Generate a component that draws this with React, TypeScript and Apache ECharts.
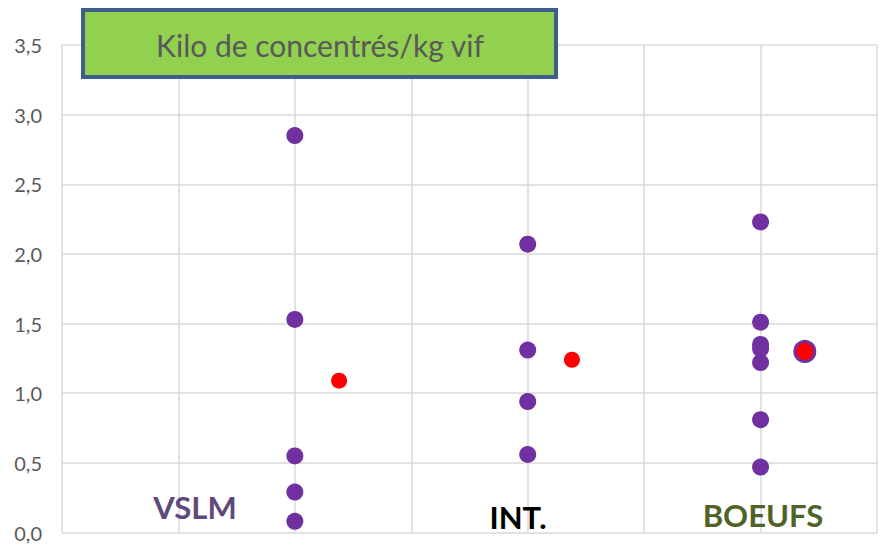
import React, { useEffect, useRef } from "react";
import * as echarts from "echarts";

const groupX = [2, 4, 6];
const groupNames = ["VSLM", "INT.", "BOEUFS"];
const vslmValues = [2.85, 1.53, 0.55, 0.29, 0.08];
const intValues = [2.07, 1.31, 0.94, 0.56];
const boeufsValues = [2.23, 1.51, 1.35, 1.32, 1.22, 0.81, 0.47];
const meanX = [2.38, 4.38, 6.38];
const meanValues = [1.09, 1.24, 1.3];
const yTicks = [0, 0.5, 1, 1.5, 2, 2.5, 3, 3.5];
const titleText = "Kilo de concentrés/kg vif";

export default function App() {
  const ref = useRef<HTMLDivElement>(null);
  useEffect(() => {
    if (!ref.current) return;
    const chart = echarts.init(ref.current, null, { renderer: "svg" });
    const groups = [vslmValues, intValues, boeufsValues];
    const purpleData: number[][] = [];
    groups.forEach((vals, i) => vals.forEach((v) => purpleData.push([groupX[i], v])));
    const meanData = meanValues.map((v, i) =>
      i === meanValues.length - 1
        ? {
            value: [meanX[i], v],
            symbolSize: 20,
            itemStyle: { color: "#FF0000", borderColor: "#7030A0", borderWidth: 3, opacity: 1 },
          }
        : { value: [meanX[i], v] }
    );
    chart.setOption({
      animation: false,
      grid: { left: 62, right: 13, top: 45, bottom: 22.5, containLabel: false },
      xAxis: {
        type: "value",
        min: 0,
        max: 7,
        interval: 1,
        axisLine: { show: false },
        axisTick: { show: false },
        axisLabel: { show: false },
        splitLine: { show: true, lineStyle: { color: "#d9d9d9", width: 1.5 } },
      },
      yAxis: {
        type: "value",
        min: yTicks[0],
        max: yTicks[yTicks.length - 1],
        interval: 0.5,
        axisLine: { show: false },
        axisTick: { show: false },
        axisLabel: {
          color: "#595959",
          fontFamily: "Lato",
          fontSize: 20,
          margin: 20,
          formatter: (v: number) => v.toFixed(1).replace(".", ","),
        },
        splitLine: { show: true, lineStyle: { color: "#d9d9d9", width: 1.5 } },
      },
      series: [
        {
          type: "scatter",
          data: purpleData,
          symbolSize: 17,
          itemStyle: { color: "#7030A0", opacity: 1 },
        },
        {
          type: "scatter",
          data: meanData,
          symbolSize: 16,
          itemStyle: { color: "#FF0000", opacity: 1 },
        },
      ],
      graphic: [
        {
          type: "rect",
          shape: { x: 83, y: 10, width: 473, height: 67 },
          style: { fill: "#92D050", stroke: "#3B5E8C", lineWidth: 4 },
          z: 10,
        },
        {
          type: "text",
          x: 320,
          y: 45,
          style: {
            text: titleText,
            fill: "#595959",
            font: "30px Lato",
            align: "center",
            verticalAlign: "middle",
          },
          z: 11,
        },
        {
          type: "text",
          x: 195,
          y: 507,
          style: { text: groupNames[0], fill: "#5F497A", font: "bold 31px Lato", align: "center", verticalAlign: "middle" },
          z: 11,
        },
        {
          type: "text",
          x: 518,
          y: 517,
          style: { text: groupNames[1], fill: "#000000", font: "bold 31px Lato", align: "center", verticalAlign: "middle" },
          z: 11,
        },
        {
          type: "text",
          x: 763,
          y: 515,
          style: { text: groupNames[2], fill: "#4F6228", font: "bold 31px Lato", align: "center", verticalAlign: "middle" },
          z: 11,
        },
      ],
    });
    return () => chart.dispose();
  }, []);
  return <div ref={ref} style={{ width: 890, height: 555, position: "absolute", left: 0, top: 0, background: "#fff" }} />;
}
